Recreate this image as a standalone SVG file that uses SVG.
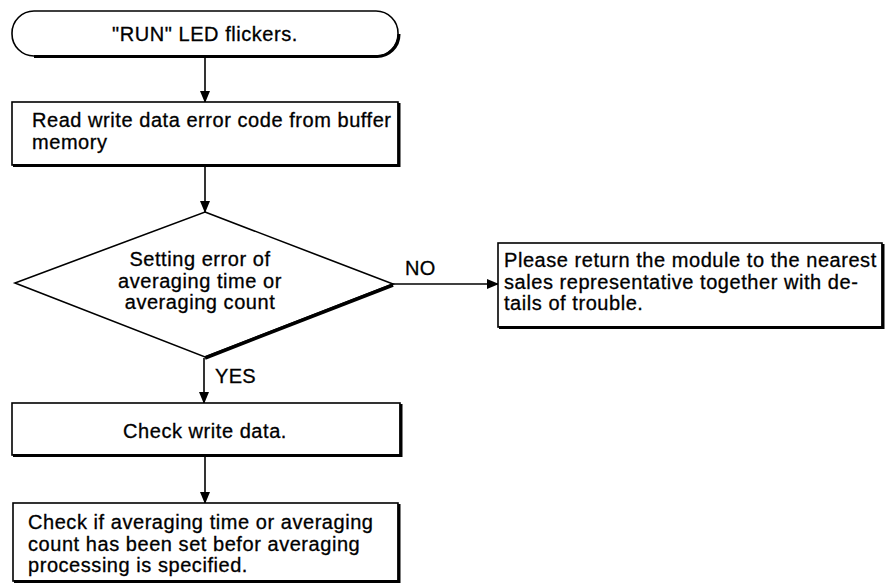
<svg xmlns="http://www.w3.org/2000/svg" width="886" height="586" viewBox="0 0 886 586">
<defs>
<marker id="ah" markerWidth="12" markerHeight="10" refX="11" refY="5" orient="auto" markerUnits="userSpaceOnUse">
<path d="M0,0 L12,5 L0,10 Z" fill="#000"/>
</marker>
</defs>
<style>
text{font-family:"Liberation Sans",Arial,sans-serif;font-size:20px;letter-spacing:0.55px;fill:#000;stroke:#000;stroke-width:0.3}
.box{fill:#fff;stroke:#000;stroke-width:1.6}
.sh{fill:none;stroke:#000;stroke-width:3}
.c{text-anchor:middle}
.ln{fill:none;stroke:#000;stroke-width:1.6}
</style>
<rect width="886" height="586" fill="#fff"/>
<g id="connectors">
<line class="ln" x1="205" y1="57" x2="205" y2="102" marker-end="url(#ah)"/>
<line class="ln" x1="205" y1="166" x2="205" y2="212" marker-end="url(#ah)"/>
<line class="ln" x1="393" y1="284" x2="498" y2="284" marker-end="url(#ah)"/>
<line class="ln" x1="204" y1="358" x2="204" y2="403" marker-end="url(#ah)"/>
<line class="ln" x1="205" y1="456" x2="205" y2="503" marker-end="url(#ah)"/>
<text x="405" y="275" style="letter-spacing:0.3px">NO</text>
<text x="215" y="383" style="letter-spacing:0.3px">YES</text>
</g>
<g id="start">
<rect class="box" x="12" y="11" width="386" height="45" rx="22" ry="22"/>
<path class="sh" d="M34,56.5 H376 A22,22 0 0 0 399,34"/>
<text class="c" x="205" y="41">"RUN" LED flickers.</text>
</g>
<g id="read">
<rect class="box" x="12" y="102" width="386" height="63"/>
<path class="sh" d="M13,165.5 H399 V103"/>
<text x="32" y="127">Read write data error code from buffer</text>
<text x="32" y="149">memory</text>
</g>
<g id="decision">
<polygon class="box" points="205,212 393,284 205,357 15,283"/>
<line class="sh" x1="393" y1="285" x2="205" y2="358" style="stroke-width:3.5"/>
<text class="c" x="200" y="266">Setting error of</text>
<text class="c" x="200" y="288">averaging time or</text>
<text class="c" x="200" y="309">averaging count</text>
</g>
<g id="return">
<rect class="box" x="498" y="243" width="384" height="84"/>
<path class="sh" d="M499,327.5 H883 V244"/>
<text x="504" y="267">Please return the module to the nearest</text>
<text x="504" y="289">sales representative together with de-</text>
<text x="504" y="310">tails of trouble.</text>
</g>
<g id="check">
<rect class="box" x="12" y="403" width="388" height="52"/>
<path class="sh" d="M13,455.5 H401 V404"/>
<text class="c" x="205" y="438">Check write data.</text>
</g>
<g id="verify">
<rect class="box" x="13" y="503" width="385" height="78"/>
<path class="sh" d="M14,581.5 H399 V504"/>
<text x="28" y="529">Check if averaging time or averaging</text>
<text x="28" y="551">count has been set befor averaging</text>
<text x="28" y="572">processing is specified.</text>
</g>
</svg>
